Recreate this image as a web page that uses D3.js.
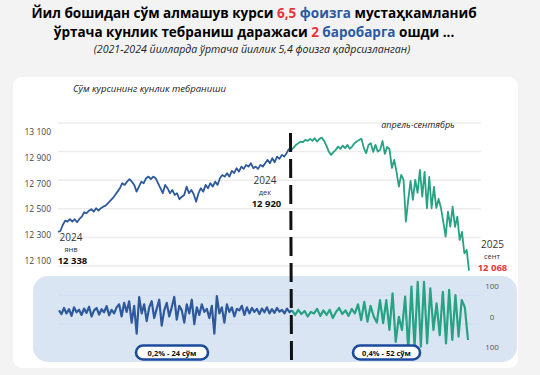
<!DOCTYPE html>
<html>
<head>
<meta charset="utf-8">
<script src="https://cdn.jsdelivr.net/npm/d3@7"></script>
<style>
body { margin: 0; background: #f3f3f3; }
text { font-family: "Open Sans", "Noto Sans", sans-serif; }
</style>
</head>
<body>
<svg id="chart"></svg>
<script>
// курс сўм/доллар: 2024 (кўк) ва 2025 (яшил)
var rate2024 = [12338, 12345, 12387, 12417, 12410, 12427, 12410, 12427, 12406, 12429,
  12445, 12476, 12469, 12487, 12497, 12480, 12504, 12487, 12504, 12515,
  12522, 12539, 12557, 12574, 12597, 12620, 12644, 12679, 12667, 12690,
  12707, 12690, 12667, 12620, 12655, 12690, 12679, 12714, 12725, 12707,
  12725, 12714, 12679, 12644, 12609, 12667, 12644, 12609, 12632, 12597,
  12609, 12567, 12585, 12597, 12655, 12609, 12632, 12602, 12550, 12609,
  12644, 12620, 12667, 12644, 12679, 12655, 12690, 12667, 12714, 12737,
  12725, 12749, 12725, 12765, 12749, 12784, 12760, 12795, 12779, 12807,
  12795, 12819, 12784, 12795, 12779, 12807, 12795, 12819, 12842, 12819,
  12854, 12826, 12865, 12849, 12877, 12865, 12889, 12920];
var rate2025 = [12912, 12928, 12947, 12959, 12970, 12966, 12982, 12975, 12989, 12975,
  12994, 12970, 12989, 12998, 12975, 12942, 12900, 12877, 12896, 12912,
  12935, 12919, 12942, 12924, 12947, 12919, 12935, 12959, 12970, 12982,
  12989, 12926, 12889, 12947, 12959, 12898, 12947, 12900, 12912, 12975,
  12884, 12933, 12917, 12786, 12842, 12758, 12655, 12737, 12702, 12410,
  12562, 12695, 12562, 12702, 12611, 12772, 12585, 12758, 12504, 12723,
  12504, 12653, 12506, 12569, 12506, 12408, 12306, 12480, 12375, 12515,
  12373, 12445, 12282, 12338, 12189, 12212, 12068];

// кунлик ўзгариш, сўм
var change2024 = [20, 8, 28, 10, 24, 2, 30, 14, 22, 5,
  26, 12, 32, 0, 20, 28, 6, 24, 14, 34,
  4, 22, 10, 30, 40, 0, 45, 15, 50, -20,
  35, -56, 64, 10, 40, -15, 30, 50, -5, 25,
  55, -30, 20, 45, 0, 30, 64, -10, 35, 20,
  -20, 40, 10, 55, -25, 30, 5, 40, 15, 25,
  -5, 35, -56, 67, 10, 30, -20, 40, 15, 30,
  0, 25, 20, 35, 5, 30, 10, 28, 15, 25,
  8, 26, 14, 30, 10, 24, 12, 28, 16, 22,
  10, 26, 14, 20];
var change2025 = [5, 22, 8, 18, 0, 15, 10, 25, 2, 20,
  5, 22, -5, 15, 28, 8, 20, 2, 25, 10,
  40, -12, 48, -17, 35, 0, -20, 54, -22, 54,
  -44, 76, -83, -1, -44, 65, -110, 98, -104, 114,
  -99, 114, -88, 92, -44, 43, -61, 81, -88, 87,
  -77, 70, -66, 54, 30, -77];

var rateTicks = [12100, 12300, 12500, 12700, 12900, 13100];
var changeTicks = [100, 0, -100];
var changeGrid = [70, -25];

var blue = "#2e5a9c", green = "#27a283", red = "#e8343c", titleBlue = "#2c5aa0";

var svg = d3.select("#chart").attr("width", 540).attr("height", 375);

svg.append("rect").attr("width", 540).attr("height", 375).attr("fill", "#f3f3f3");
svg.append("rect").attr("x", 13).attr("y", 77).attr("width", 505).attr("height", 291)
  .attr("rx", 9).attr("fill", "#fff");
svg.append("rect").attr("x", 33).attr("y", 276).attr("width", 484).attr("height", 86)
  .attr("rx", 15).attr("fill", "#dae5f4");

// сарлавҳа
var t1 = svg.append("text").attr("x", 254).attr("y", 18).attr("font-size", 13.5)
  .attr("font-weight", 700).attr("text-anchor", "middle");
t1.append("tspan").text("Йил бошидан сўм алмашув курси ");
t1.append("tspan").attr("fill", red).text("6,5");
t1.append("tspan").attr("fill", titleBlue).text(" фоизга");
t1.append("tspan").text(" мустаҳкамланиб");

var t2 = svg.append("text").attr("x", 254).attr("y", 37).attr("font-size", 13.5)
  .attr("font-weight", 700).attr("text-anchor", "middle");
t2.append("tspan").text("ўртача кунлик тебраниш даражаси ");
t2.append("tspan").attr("fill", red).text("2");
t2.append("tspan").attr("fill", titleBlue).text(" баробарга");
t2.append("tspan").text(" ошди ...");

svg.append("text").attr("x", 252).attr("y", 52.5).attr("font-size", 10.6)
  .attr("font-style", "italic").attr("fill", "#222").attr("text-anchor", "middle")
  .text("(2021-2024 йилларда ўртача йиллик 5,4 фоизга қадрсизланган)");

svg.append("text").attr("x", 73).attr("y", 92).attr("font-size", 9.5)
  .attr("font-style", "italic").attr("fill", "#222")
  .text("Сўм курсининг кунлик тебраниши");

// юқори график
var n1 = rate2024.length, n2 = rate2025.length;
var x = d3.scaleLinear().domain([0, n1 - 1, n1 + n2 - 1]).range([58, 289, 469]);
var y = d3.scaleLinear().domain([12100, 13100]).range([266, 123]);
var yLabel = d3.scaleLinear().domain([12100, 13100]).range([260.7, 131.7]);

svg.append("g").selectAll("line").data(rateTicks).join("line")
  .attr("x1", 58).attr("x2", 481)
  .attr("y1", d => y(d)).attr("y2", d => y(d))
  .attr("stroke", "#ececec").attr("stroke-width", 1.5);

var fmt = d => d3.format(",")(d).replace(",", " ");
var yAxis = svg.append("g").attr("transform", "translate(54,0)")
  .call(d3.axisLeft(yLabel).tickValues(rateTicks).tickSize(0).tickFormat(fmt));
yAxis.select(".domain").remove();
yAxis.selectAll("text").attr("font-size", 8.5).attr("fill", "#444")
  .attr("font-family", "\"Open Sans\", sans-serif").attr("dx", 0);

var pts2024 = rate2024.map((v, i) => [i, v]);
var pts2025 = [[n1 - 1, rate2024[n1 - 1]]].concat(rate2025.map((v, i) => [n1 + i, v]));
var line = d3.line().x(d => x(d[0])).y(d => y(d[1]));

svg.append("path").datum(pts2024).attr("d", line).attr("fill", "none")
  .attr("stroke", blue).attr("stroke-width", 1.8).attr("stroke-linejoin", "round");
svg.append("path").datum(pts2025).attr("d", line).attr("fill", "none")
  .attr("stroke", green).attr("stroke-width", 1.8).attr("stroke-linejoin", "round");

// изоҳлар
function label(xx, yy, txt, size, opts) {
  opts = opts || {};
  return svg.append("text").attr("x", xx).attr("y", yy).attr("font-size", size)
    .attr("text-anchor", "middle").attr("fill", opts.fill || "#333")
    .attr("font-weight", opts.bold ? 700 : 400)
    .attr("font-style", opts.italic ? "italic" : "normal").text(txt);
}
label(71, 240.5, "2024", 10);
label(71, 251.5, "янв", 7.5);
label(72.5, 263.5, "12 338", 9.5, {bold: true, fill: "#111"});
label(265, 184, "2024", 10);
label(265, 195, "дек", 7.5);
label(266.5, 207, "12 920", 9.5, {bold: true, fill: "#111"});
label(492.5, 247.5, "2025", 10);
label(492, 258.5, "сент", 7.5);
label(492.5, 270.5, "12 068", 9.5, {bold: true, fill: red});
label(418, 127.5, "апрель-сентябрь", 9, {italic: true, fill: "#222"});

// пастки график
var m1 = change2024.length, m2 = change2025.length;
var x2 = d3.scaleLinear().domain([0, m1 - 1, m1 + m2 - 1]).range([59, 292, 468]);
var y2 = d3.scaleLinear().domain([-100, 100]).range([347, 286]);

svg.append("g").selectAll("line").data(changeGrid).join("line")
  .attr("x1", 58).attr("x2", 481)
  .attr("y1", d => y2(d)).attr("y2", d => y2(d))
  .attr("stroke", "#cfdcee").attr("stroke-width", 1);

svg.append("g").selectAll("text").data(changeTicks).join("text")
  .attr("x", 492).attr("y", d => y2(d) + 3).attr("text-anchor", "middle")
  .attr("font-size", 8).attr("fill", "#555").text(d => Math.abs(d));

var c2024 = change2024.map((v, i) => [i, v]);
var c2025 = [[m1 - 1, change2024[m1 - 1]]].concat(change2025.map((v, i) => [m1 + i, v]));
var line2 = d3.line().x(d => x2(d[0])).y(d => y2(d[1]));

svg.append("path").datum(c2024).attr("d", line2).attr("fill", "none")
  .attr("stroke", blue).attr("stroke-width", 2.2).attr("stroke-linejoin", "round");
svg.append("path").datum(c2025).attr("d", line2).attr("fill", "none")
  .attr("stroke", green).attr("stroke-width", 2.2).attr("stroke-linejoin", "round");

// ажратувчи чизиқ
svg.append("line").attr("x1", 290.5).attr("x2", 291.5).attr("y1", 133).attr("y2", 362)
  .attr("stroke", "#111").attr("stroke-width", 3).attr("stroke-dasharray", "19,7");

// пилюлалар
var pills = [
  {x: 136, w: 72, text: "0,2% - 24 сўм"},
  {x: 353, w: 67, text: "0,4% - 52 сўм"}
];
pills.forEach(function(p) {
  svg.append("rect").attr("x", p.x).attr("y", 345.5).attr("width", p.w).attr("height", 14)
    .attr("rx", 7).attr("fill", "#fff").attr("stroke", "#1d4b9c").attr("stroke-width", 2.6);
  svg.append("text").attr("x", p.x + p.w / 2).attr("y", 355.5).attr("text-anchor", "middle")
    .attr("font-size", 7.5).attr("font-weight", 700).attr("fill", "#111").text(p.text);
});
</script>
</body>
</html>
